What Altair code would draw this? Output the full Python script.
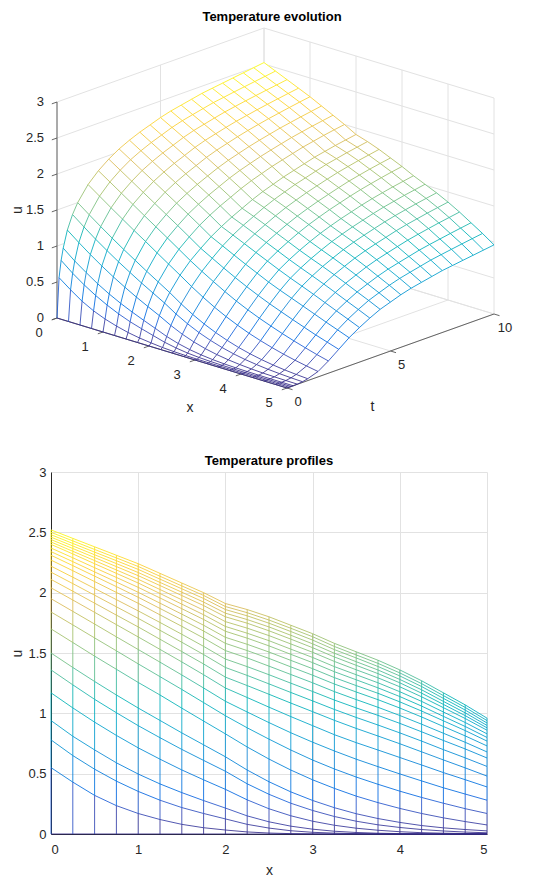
import altair as alt
import pandas as pd

# ---------------- values ----------------
X_GRID = [0.0, 0.25, 0.5, 0.75, 1.0, 1.25, 1.5, 1.75, 2.0, 2.25, 2.5,
          2.75, 3.0, 3.25, 3.5, 3.75, 4.0, 4.25, 4.5, 4.75, 5.0]
T_GRID = [0.0, 0.1, 0.2, 0.3, 0.5, 0.75, 1.0, 1.5, 2.0, 2.5, 3.0, 3.5, 4.0,
          4.5, 5.0, 5.5, 6.0, 6.5, 7.0, 7.5, 8.0, 8.5, 9.0, 9.5, 10.0]

U_T0 = [0, 0, 0, 0, 0, 0, 0, 0, 0, 0, 0, 0, 0, 0, 0, 0, 0, 0, 0, 0, 0]
U_T01 = [0.55, 0.43, 0.32, 0.235, 0.17, 0.12, 0.08, 0.052, 0.033, 0.017, 0.008, 0.003, 0.001, 0, 0, 0, 0, 0, 0, 0, 0]
U_T02 = [0.78, 0.65, 0.537, 0.438, 0.353, 0.28, 0.219, 0.17, 0.125, 0.08, 0.049, 0.027, 0.014, 0.007, 0.003, 0.001, 0, 0, 0, 0, 0]
U_T03 = [0.94, 0.81, 0.697, 0.59, 0.497, 0.415, 0.343, 0.277, 0.215, 0.15, 0.101, 0.065, 0.04, 0.023, 0.0125, 0.0064, 0.0032, 0.0015, 0.0006, 0.0003, 0.0001]
U_T05 = [1.17, 1.045, 0.927, 0.817, 0.714, 0.62, 0.531, 0.449, 0.37, 0.283, 0.209, 0.151, 0.106, 0.0725, 0.048, 0.031, 0.019, 0.011, 0.0065, 0.0037, 0.002]
U_T075 = [1.36, 1.236, 1.116, 1.005, 0.898, 0.798, 0.701, 0.61, 0.52, 0.416, 0.329, 0.255, 0.195, 0.145, 0.106, 0.076, 0.054, 0.037, 0.025, 0.016, 0.01]
U_T1 = [1.5, 1.38, 1.264, 1.152, 1.044, 0.941, 0.838, 0.739, 0.64, 0.53, 0.433, 0.349, 0.278, 0.218, 0.168, 0.128, 0.096, 0.07, 0.051, 0.037, 0.026]
U_T15 = [1.70, 1.587, 1.474, 1.365, 1.256, 1.152, 1.043, 0.936, 0.83, 0.721, 0.621, 0.53, 0.449, 0.378, 0.314, 0.26, 0.212, 0.17, 0.134, 0.103, 0.075]
U_T2 = [1.84, 1.733, 1.625, 1.518, 1.41, 1.304, 1.198, 1.089, 0.98, 0.88, 0.786, 0.696, 0.613, 0.539, 0.472, 0.412, 0.355, 0.303, 0.255, 0.21, 0.17]
U_T25 = [1.95, 1.845, 1.74, 1.634, 1.529, 1.424, 1.318, 1.21, 1.10, 1.011, 0.923, 0.839, 0.761, 0.688, 0.62, 0.558, 0.498, 0.44, 0.383, 0.331, 0.28]
U_T3 = [2.04, 1.939, 1.837, 1.735, 1.633, 1.53, 1.426, 1.32, 1.21, 1.131, 1.051, 0.973, 0.898, 0.823, 0.757, 0.696, 0.634, 0.572, 0.509, 0.45, 0.39]
U_T35 = [2.11, 2.012, 1.913, 1.814, 1.716, 1.614, 1.512, 1.409, 1.30, 1.23, 1.158, 1.085, 1.014, 0.942, 0.875, 0.812, 0.748, 0.681, 0.614, 0.548, 0.48]
U_T4 = [2.17, 2.075, 1.979, 1.883, 1.787, 1.688, 1.589, 1.487, 1.38, 1.314, 1.244, 1.173, 1.103, 1.032, 0.966, 0.903, 0.838, 0.77, 0.699, 0.631, 0.56]
U_T45 = [2.22, 2.128, 2.035, 1.942, 1.849, 1.753, 1.655, 1.555, 1.45, 1.387, 1.32, 1.25, 1.181, 1.11, 1.045, 0.983, 0.917, 0.847, 0.775, 0.705, 0.63]
U_T5 = [2.27, 2.182, 2.092, 2.002, 1.912, 1.816, 1.721, 1.624, 1.52, 1.459, 1.391, 1.322, 1.253, 1.18, 1.114, 1.05, 0.982, 0.91, 0.835, 0.76, 0.68]
U_T55 = [2.31, 2.224, 2.137, 2.05, 1.962, 1.869, 1.776, 1.682, 1.58, 1.52, 1.455, 1.385, 1.316, 1.243, 1.177, 1.113, 1.044, 0.97, 0.891, 0.813, 0.73]
U_T6 = [2.34, 2.257, 2.172, 2.088, 2.003, 1.913, 1.822, 1.73, 1.63, 1.572, 1.508, 1.439, 1.37, 1.296, 1.23, 1.166, 1.095, 1.019, 0.938, 0.857, 0.77]
U_T65 = [2.37, 2.289, 2.207, 2.126, 2.044, 1.956, 1.867, 1.778, 1.68, 1.623, 1.559, 1.489, 1.42, 1.345, 1.278, 1.211, 1.139, 1.06, 0.975, 0.891, 0.80]
U_T7 = [2.40, 2.321, 2.24, 2.16, 2.08, 1.993, 1.905, 1.817, 1.72, 1.664, 1.602, 1.532, 1.463, 1.387, 1.32, 1.253, 1.179, 1.099, 1.011, 0.924, 0.83]
U_T75 = [2.42, 2.343, 2.266, 2.188, 2.111, 2.026, 1.941, 1.855, 1.76, 1.706, 1.644, 1.575, 1.506, 1.43, 1.361, 1.294, 1.22, 1.137, 1.047, 0.957, 0.86]
U_T8 = [2.44, 2.366, 2.291, 2.216, 2.141, 2.059, 1.976, 1.893, 1.80, 1.747, 1.684, 1.615, 1.544, 1.467, 1.398, 1.329, 1.253, 1.167, 1.074, 0.981, 0.88]
U_T85 = [2.46, 2.387, 2.314, 2.241, 2.167, 2.085, 2.004, 1.922, 1.83, 1.777, 1.716, 1.647, 1.576, 1.498, 1.428, 1.359, 1.281, 1.195, 1.099, 1.004, 0.90]
U_T9 = [2.48, 2.408, 2.336, 2.265, 2.193, 2.112, 2.032, 1.952, 1.86, 1.808, 1.747, 1.678, 1.607, 1.528, 1.459, 1.388, 1.31, 1.222, 1.124, 1.027, 0.92]
U_T95 = [2.50, 2.429, 2.358, 2.288, 2.217, 2.136, 2.056, 1.977, 1.885, 1.834, 1.773, 1.705, 1.635, 1.554, 1.484, 1.414, 1.335, 1.246, 1.147, 1.049, 0.94]
U_T10 = [2.52, 2.45, 2.38, 2.31, 2.24, 2.16, 2.08, 2.00, 1.91, 1.86, 1.80, 1.73, 1.66, 1.58, 1.51, 1.44, 1.36, 1.27, 1.17, 1.07, 0.96]

PROFILES = [U_T0, U_T01, U_T02, U_T03, U_T05, U_T075, U_T1, U_T15, U_T2, U_T25,
            U_T3, U_T35, U_T4, U_T45, U_T5, U_T55, U_T6, U_T65, U_T7, U_T75,
            U_T8, U_T85, U_T9, U_T95, U_T10]

X_TICKS = [0, 1, 2, 3, 4, 5]
T_TICKS = [0, 5, 10]
U_TICKS = [0, 0.5, 1, 1.5, 2, 2.5, 3]

TITLE_TOP = "Temperature evolution"
TITLE_BOTTOM = "Temperature profiles"

# ---------------- styles / layout ----------------
FONT = "Liberation Sans"
TEXT_COLOR = "#262626"
GRID_COLOR = "#e2e2e2"
AXIS_COLOR = "#555555"
PARULA = ["#352a87", "#0363e1", "#1485d4", "#06a7c6", "#38b99e",
          "#92bf73", "#d9ba56", "#fcce2e", "#f9fb0e"]

PAGE_MARGIN = 8
VIEW_LEFT, VIEW_TOP, VIEW_W, VIEW_H = 51, 472, 436, 362
CANVAS_W, CANVAS_H = 534, 873

# screen projection of the 3-D box (page pixels)
P_ORIGIN = (57, 318)
P_XEDGE = (230, 70)
P_TEDGE = (207, -74)
P_UEDGE = 216
TICK_T = 0.25
TICK_X = 0.12

XMAX, TMAX, UBOX = X_TICKS[-1], T_TICKS[-1], U_TICKS[-1]
AX, AY = P_XEDGE[0] / XMAX, P_XEDGE[1] / XMAX
BX, BY = P_TEDGE[0] / TMAX, P_TEDGE[1] / TMAX
CU = P_UEDGE / UBOX


def px(xf, tf):
    return f"{P_ORIGIN[0]} + {AX}*datum.{xf} + ({BX})*datum.{tf}"


def py(xf, tf, uf):
    return f"{P_ORIGIN[1]} + {AY}*datum.{xf} + ({BY})*datum.{tf} - {CU}*datum.{uf}"


# ---------------- tables built from the arrays ----------------
rows = []
for j, tv in enumerate(T_GRID):
    prof = PROFILES[j]
    for i in range(len(X_GRID) - 1):
        rows.append(dict(x=X_GRID[i], t=tv, u=prof[i],
                         xe=X_GRID[i + 1], te=tv, ue=prof[i + 1]))
for i, xv in enumerate(X_GRID):
    for j in range(len(T_GRID) - 1):
        rows.append(dict(x=xv, t=T_GRID[j], u=PROFILES[j][i],
                         xe=xv, te=T_GRID[j + 1], ue=PROFILES[j + 1][i]))
segs = pd.DataFrame(rows)
segs["um"] = (segs["u"] + segs["ue"]) / 2

UMAX_DATA = max(max(p) for p in PROFILES)
col_scale = alt.Scale(domain=[UMAX_DATA * k / (len(PARULA) - 1) for k in range(len(PARULA))],
                      range=PARULA)

# outline of the surface (white faces hide what is behind)
outline = []
for j, tv in enumerate(T_GRID):
    outline.append((0.0, tv, PROFILES[j][0]))
for i, xv in enumerate(X_GRID[1:], start=1):
    outline.append((xv, TMAX, PROFILES[-1][i]))
for j in range(len(T_GRID) - 2, -1, -1):
    outline.append((XMAX, T_GRID[j], PROFILES[j][-1]))
for i in range(len(X_GRID) - 2, -1, -1):
    outline.append((X_GRID[i], 0.0, PROFILES[0][i]))
outline_df = pd.DataFrame(outline, columns=["x", "t", "u"])
outline_df["k"] = range(len(outline_df))

grid_rows = []
for xv in X_TICKS:
    grid_rows.append((xv, 0, 0, xv, TMAX, 0))
    grid_rows.append((xv, TMAX, 0, xv, TMAX, UBOX))
for tv in T_TICKS:
    grid_rows.append((0, tv, 0, XMAX, tv, 0))
    grid_rows.append((0, tv, 0, 0, tv, UBOX))
for uv in U_TICKS:
    grid_rows.append((0, 0, uv, 0, TMAX, uv))
    grid_rows.append((0, TMAX, uv, XMAX, TMAX, uv))
cols6 = ["x", "t", "u", "xe", "te", "ue"]
grid_df = pd.DataFrame(grid_rows, columns=cols6)

axis_rows = [(0, 0, 0, 0, 0, UBOX), (0, 0, 0, XMAX, 0, 0), (XMAX, 0, 0, XMAX, TMAX, 0)]
for uv in U_TICKS:
    axis_rows.append((0, 0, uv, 0, -TICK_T, uv))
for xv in X_TICKS:
    axis_rows.append((xv, 0, 0, xv, -TICK_T, 0))
for tv in T_TICKS:
    axis_rows.append((XMAX, tv, 0, XMAX + TICK_X, tv, 0))
axis_df = pd.DataFrame(axis_rows, columns=cols6)

z_lab = pd.DataFrame({"x": 0, "t": 0, "u": U_TICKS, "label": [f"{v:g}" for v in U_TICKS]})
x_lab = pd.DataFrame({"x": X_TICKS, "t": 0, "u": 0, "label": [f"{v:g}" for v in X_TICKS]})
t_lab = pd.DataFrame({"x": XMAX, "t": T_TICKS, "u": 0, "label": [f"{v:g}" for v in T_TICKS]})
u_title = pd.DataFrame({"x": [0], "t": [0], "u": [UBOX / 2], "label": ["u"]})
x_title = pd.DataFrame({"x": [XMAX / 2], "t": [0], "u": [0], "label": ["x"]})
t_title = pd.DataFrame({"x": [XMAX], "t": [TMAX / 2], "u": [0], "label": ["t"]})
top_title = pd.DataFrame({"x": [0], "t": [TMAX], "u": [UBOX], "label": [TITLE_TOP]})

# ---------------- 3-D panel ----------------
sx3 = alt.Scale(domain=[VIEW_LEFT, VIEW_LEFT + VIEW_W], nice=False, zero=False)
sy3 = alt.Scale(domain=[VIEW_TOP, VIEW_TOP + VIEW_H], nice=False, zero=False, reverse=True)


def seg3d(df, **mark):
    return (alt.Chart(df)
            .transform_calculate(X1=px("x", "t"), Y1=py("x", "t", "u"),
                                 X2=px("xe", "te"), Y2=py("xe", "te", "ue"))
            .mark_rule(**mark)
            .encode(x=alt.X("X1:Q", scale=sx3, axis=None),
                    y=alt.Y("Y1:Q", scale=sy3, axis=None),
                    x2="X2:Q", y2="Y2:Q"))


def text3d(df, **mark):
    return (alt.Chart(df)
            .transform_calculate(X1=px("x", "t"), Y1=py("x", "t", "u"))
            .mark_text(font=FONT, color=TEXT_COLOR, **mark)
            .encode(x=alt.X("X1:Q", scale=sx3, axis=None),
                    y=alt.Y("Y1:Q", scale=sy3, axis=None),
                    text="label:N"))


grid3d = seg3d(grid_df, color=GRID_COLOR, strokeWidth=1)
fill3d = (alt.Chart(outline_df)
          .transform_calculate(X1=px("x", "t"), Y1=py("x", "t", "u"))
          .mark_line(fill="white", stroke="white", strokeWidth=1)
          .encode(x=alt.X("X1:Q", scale=sx3, axis=None),
                  y=alt.Y("Y1:Q", scale=sy3, axis=None),
                  order="k:Q"))
axes3d = seg3d(axis_df, color=AXIS_COLOR, strokeWidth=0.9)
mesh3d = seg3d(segs, strokeWidth=1, opacity=0.85).encode(
    color=alt.Color("um:Q", scale=col_scale, legend=None))

labels3d = [
    text3d(z_lab, fontSize=13, align="right", baseline="middle", dx=-13),
    text3d(x_lab, fontSize=13, align="center", baseline="middle", dx=-18, dy=15),
    text3d(t_lab, fontSize=13, align="center", baseline="middle", dx=11, dy=14),
    text3d(u_title, fontSize=14, align="center", baseline="middle", dy=-39, angle=270),
    text3d(x_title, fontSize=14, align="center", baseline="middle", dx=18, dy=55),
    text3d(t_title, fontSize=14, align="center", baseline="middle", dx=-18, dy=56),
    text3d(top_title, fontSize=13, fontWeight="bold", align="center", baseline="middle",
           dx=8, dy=-11).encode(color=alt.value("black")),
]

top_panel = alt.layer(grid3d, fill3d, axes3d, mesh3d, *labels3d)

# ---------------- 2-D panel (side view) ----------------
xs_b = alt.Scale(domain=[X_TICKS[0], X_TICKS[-1]], nice=False, zero=False)
ys_b = alt.Scale(domain=[U_TICKS[0], U_TICKS[-1]], nice=False, zero=False)
x_axis_b = alt.Axis(values=X_TICKS, title="x", grid=True, format="~g",
                    labelPadding=9, titlePadding=7)
y_axis_b = alt.Axis(values=U_TICKS, title="u", grid=True, format="~g",
                    labelPadding=5, titlePadding=3)

lines_b = alt.Chart(segs).mark_rule(strokeWidth=1, opacity=0.85).encode(
    x=alt.X("x:Q", scale=xs_b, axis=x_axis_b),
    x2="xe:Q",
    y=alt.Y("u:Q", scale=ys_b, axis=y_axis_b),
    y2="ue:Q",
    color=alt.Color("um:Q", scale=col_scale, legend=None),
)

title_b = alt.Chart(pd.DataFrame({"x": [X_TICKS[-1] / 2], "u": [U_TICKS[-1]],
                                  "label": [TITLE_BOTTOM]})).mark_text(
    font=FONT, fontSize=13, fontWeight="bold", color="black",
    baseline="middle", dy=-11).encode(
    x=alt.X("x:Q", scale=xs_b, axis=x_axis_b),
    y=alt.Y("u:Q", scale=ys_b, axis=y_axis_b),
    text="label:N")

bottom_panel = alt.layer(lines_b, title_b)

chart = (alt.layer(bottom_panel, top_panel)
         .resolve_scale(x="independent", y="independent")
         .properties(width=VIEW_W, height=VIEW_H,
                     autosize=alt.AutoSizeParams(type="none"),
                     padding={"left": VIEW_LEFT - PAGE_MARGIN,
                              "top": VIEW_TOP - PAGE_MARGIN,
                              "right": CANVAS_W - (VIEW_LEFT - PAGE_MARGIN) - VIEW_W,
                              "bottom": CANVAS_H - (VIEW_TOP - PAGE_MARGIN) - VIEW_H})
         .configure_view(strokeWidth=0)
         .configure_axis(labelFont=FONT, labelFontSize=13, labelColor=TEXT_COLOR,
                         titleFont=FONT, titleFontSize=14, titleFontWeight="normal",
                         titleColor=TEXT_COLOR, domainColor=TEXT_COLOR,
                         gridColor=GRID_COLOR, ticks=False))

chart.save("out.html", embed_options={"renderer": "svg", "actions": False})
